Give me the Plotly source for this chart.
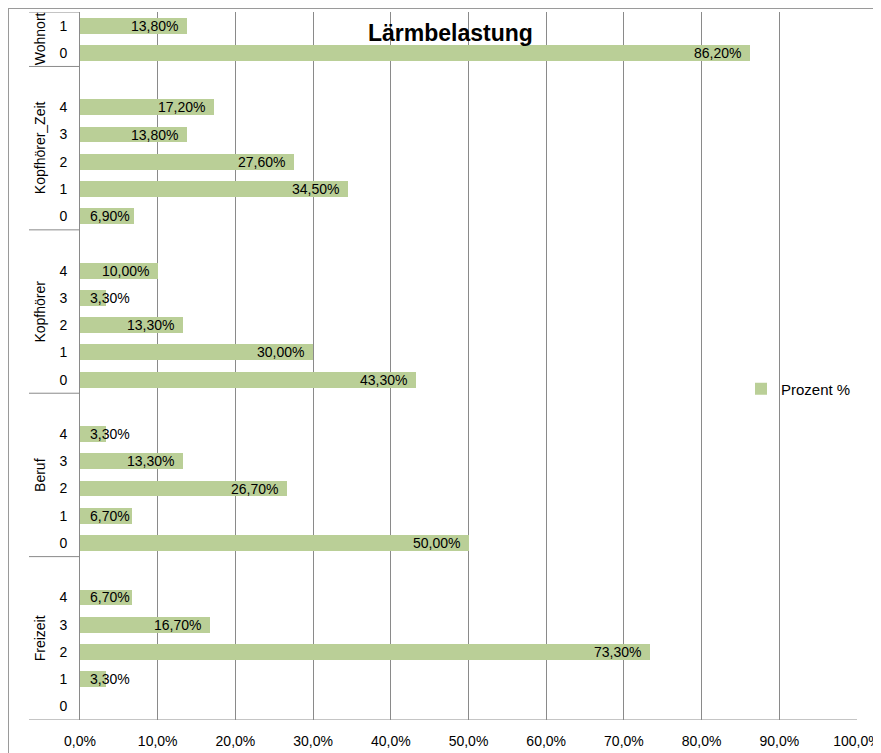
import plotly.graph_objects as go

# ---- data ----
groups = ["Freizeit", "Beruf", "Kopfhörer", "Kopfhörer_Zeit", "Wohnort"]
categories = {
    "Freizeit": ["0", "1", "2", "3", "4"],
    "Beruf": ["0", "1", "2", "3", "4"],
    "Kopfhörer": ["0", "1", "2", "3", "4"],
    "Kopfhörer_Zeit": ["0", "1", "2", "3", "4"],
    "Wohnort": ["0", "1"],
}
freizeit = [None, 3.3, 73.3, 16.7, 6.7]
beruf = [50.0, 6.7, 26.7, 13.3, 3.3]
kopfhoerer = [43.3, 30.0, 13.3, 3.3, 10.0]
kopfhoerer_zeit = [6.9, 34.5, 27.6, 13.8, 17.2]
wohnort = [86.2, 13.8]
values = {
    "Freizeit": freizeit,
    "Beruf": beruf,
    "Kopfhörer": kopfhoerer,
    "Kopfhörer_Zeit": kopfhoerer_zeit,
    "Wohnort": wohnort,
}
x_tickvals = [0, 10, 20, 30, 40, 50, 60, 70, 80, 90, 100]
x_ticktext = ["0,0%", "10,0%", "20,0%", "30,0%", "40,0%", "50,0%",
              "60,0%", "70,0%", "80,0%", "90,0%", "100,0%"]
title = "Lärmbelastung"
series_name = "Prozent %"

# ---- style ----
FONT = "Liberation Sans, Arial, sans-serif"
BAR = "#BACF97"
GRID = "#8a8a8a"
OFF = 8  # page body margin
W, H = 881 - OFF, 753 - OFF
# plot area in screen pixels: x 80..857, y 12..720
ML = 80 - OFF
MR = W - (857 - OFF)
MT = 12 - OFF
MB = H - (720 - OFF)
PW = W - ML - MR
PH = H - MT - MB

# build row positions (one blank row between groups)
ys, xs, tickvals, ticktext = [], [], [], []
group_spans = []
row = 0
for gi, g in enumerate(groups):
    start = row
    for c, v in zip(categories[g], values[g]):
        tickvals.append(row)
        ticktext.append(c)
        ys.append(row)
        xs.append(v)
        row += 1
    if gi < len(groups) - 1:
        row += 1  # blank row
    group_spans.append((g, start - 0.5, row - 0.5))
nrows = row

def px2paper_x(sx):
    return (sx - OFF - ML) / PW

def px2paper_y(sy):
    return (H - MB - (sy - OFF)) / PH

fig = go.Figure()
fig.add_trace(go.Bar(
    x=xs, y=ys, orientation="h", width=0.58,
    marker=dict(color=BAR, line=dict(width=0)),
    name=series_name, showlegend=True,
))

annotations = []
# value labels
for v, y in zip(xs, ys):
    if v is None:
        continue
    label = f"{v:.2f}".replace(".", ",") + "%"
    bar_end_px = v / 100 * PW
    if bar_end_px - 9 - 7.2 * len(label) < 10:
        annotations.append(dict(x=0, y=y, xref="x", yref="y", text=label,
                                showarrow=False, xanchor="left", xshift=8,
                                font=dict(family=FONT, size=14, color="black")))
    else:
        annotations.append(dict(x=v, y=y, xref="x", yref="y", text=label,
                                showarrow=False, xanchor="right", xshift=-7,
                                font=dict(family=FONT, size=14, color="black")))

shapes = []
sep_x0 = px2paper_x(29)
for g, lo, hi in group_spans:
    annotations.append(dict(x=px2paper_x(40), y=(lo + hi) / 2, xref="paper", yref="y",
                            text=g, textangle=-90, showarrow=False,
                            xanchor="center", yanchor="middle",
                            font=dict(family=FONT, size=14, color="black")))
    shapes.append(dict(type="line", xref="paper", yref="y", x0=sep_x0, x1=0,
                       y0=hi, y1=hi, line=dict(color=GRID, width=1)))
# bottom axis line extended to the left
shapes.append(dict(type="line", xref="paper", yref="y", x0=sep_x0, x1=1,
                   y0=-0.5, y1=-0.5, line=dict(color=GRID, width=1)))
# chart area border (top & left)
shapes.append(dict(type="line", xref="paper", yref="paper",
                   x0=px2paper_x(8), x1=px2paper_x(881 + 5),
                   y0=px2paper_y(8.5), y1=px2paper_y(8.5),
                   line=dict(color="#9a9a9a", width=1)))
shapes.append(dict(type="line", xref="paper", yref="paper",
                   x0=px2paper_x(8.5), x1=px2paper_x(8.5),
                   y0=px2paper_y(8), y1=px2paper_y(753 + 5),
                   line=dict(color="#9a9a9a", width=1)))

# title
annotations.append(dict(x=px2paper_x(450), y=px2paper_y(33.5), xref="paper", yref="paper",
                        text="<b>" + title + "</b>", showarrow=False,
                        xanchor="center", yanchor="middle",
                        font=dict(family=FONT, size=23, color="black")))

fig.update_layout(
    width=W, height=H,
    margin=dict(l=ML, r=MR, t=MT, b=MB, pad=0, autoexpand=False),
    paper_bgcolor="white", plot_bgcolor="white",
    font=dict(family=FONT, size=14, color="black"),
    bargap=0,
    xaxis=dict(range=[0, 100], tickvals=x_tickvals, ticktext=x_ticktext,
               showgrid=True, gridcolor=GRID, gridwidth=1,
               zeroline=False, showline=False, ticks="", automargin=False,
               ticklabelstandoff=11, fixedrange=True),
    yaxis=dict(range=[-0.5, nrows - 0.5], tickvals=tickvals, ticktext=ticktext,
               showgrid=False, zeroline=False, showline=True, linecolor=GRID,
               linewidth=1, ticks="", automargin=False,
               ticklabelstandoff=9, fixedrange=True),
    showlegend=True,
    legend=dict(x=px2paper_x(741), y=px2paper_y(389), xanchor="left", yanchor="middle",
                bgcolor="rgba(0,0,0,0)", font=dict(family=FONT, size=15, color="black"),
                itemwidth=30),
    annotations=annotations,
    shapes=shapes,
)

fig.write_html("out.html")
